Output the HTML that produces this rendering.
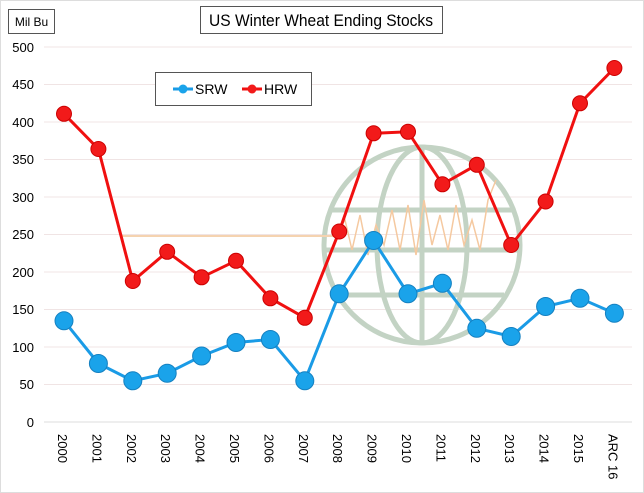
<!DOCTYPE html>
<html><head><style>body{margin:0;background:#fff}svg{display:block}text{font-family:"Liberation Sans",sans-serif}</style></head><body>
<svg width="644" height="493" viewBox="0 0 644 493">
<rect x="0.5" y="0.5" width="643" height="492" fill="#fff" stroke="#ddd"/>
<g stroke="#f0e4e4" stroke-width="1">
<line x1="44" y1="47" x2="632" y2="47"/><line x1="44" y1="84.5" x2="632" y2="84.5"/><line x1="44" y1="122" x2="632" y2="122"/><line x1="44" y1="159.5" x2="632" y2="159.5"/><line x1="44" y1="197" x2="632" y2="197"/><line x1="44" y1="234.5" x2="632" y2="234.5"/><line x1="44" y1="272" x2="632" y2="272"/><line x1="44" y1="309.5" x2="632" y2="309.5"/><line x1="44" y1="347" x2="632" y2="347"/><line x1="44" y1="384.5" x2="632" y2="384.5"/>
</g>
<line x1="44" y1="422" x2="632" y2="422" stroke="#ddd"/>
<g fill="none" stroke="#c3d3c4" stroke-width="5">
<circle cx="422" cy="245" r="98"/>
<ellipse cx="422" cy="245" rx="45" ry="98"/>
<line x1="422" y1="147" x2="422" y2="343"/>
<line x1="330" y1="210" x2="514" y2="210"/>
<line x1="326" y1="250" x2="518" y2="250"/>
<line x1="340" y1="295" x2="504" y2="295"/>
</g>
<line x1="122" y1="236" x2="335" y2="236" stroke="#f5d3b0" stroke-width="2"/>
<polyline fill="none" stroke="#f5c9a0" stroke-width="1.5" points="335,236 345,220 352,250 360,215 368,255 376,225 384,245 392,210 400,250 408,205 416,255 424,200 432,245 440,215 448,250 456,205 464,245 472,220 480,250 488,200 496,180"/>
<g font-size="13" fill="#000" text-anchor="end">
<text x="34" y="52">500</text><text x="34" y="89">450</text><text x="34" y="127">400</text><text x="34" y="164">350</text><text x="34" y="202">300</text><text x="34" y="239">250</text><text x="34" y="277">200</text><text x="34" y="314">150</text><text x="34" y="352">100</text><text x="34" y="389">50</text><text x="34" y="427">0</text>
</g>
<g font-size="13" fill="#000">
<text transform="translate(58,434) rotate(90)">2000</text>
<text transform="translate(92.4,434) rotate(90)">2001</text>
<text transform="translate(126.8,434) rotate(90)">2002</text>
<text transform="translate(161.2,434) rotate(90)">2003</text>
<text transform="translate(195.6,434) rotate(90)">2004</text>
<text transform="translate(230,434) rotate(90)">2005</text>
<text transform="translate(264.4,434) rotate(90)">2006</text>
<text transform="translate(298.8,434) rotate(90)">2007</text>
<text transform="translate(333.2,434) rotate(90)">2008</text>
<text transform="translate(367.6,434) rotate(90)">2009</text>
<text transform="translate(402,434) rotate(90)">2010</text>
<text transform="translate(436.4,434) rotate(90)">2011</text>
<text transform="translate(470.8,434) rotate(90)">2012</text>
<text transform="translate(505.2,434) rotate(90)">2013</text>
<text transform="translate(539.6,434) rotate(90)">2014</text>
<text transform="translate(574,434) rotate(90)">2015</text>
<text transform="translate(608.4,434) rotate(90)">ARC 16</text>
</g>
<polyline fill="none" stroke="#1a9be6" stroke-width="3" points="64,320.8 98.4,363.5 132.8,380.8 167.2,373.3 201.6,356 236,342.5 270.4,339.5 304.8,380.8 339.2,293.8 373.6,240.5 408,293.8 442.4,283.3 476.8,328.3 511.2,336.5 545.6,306.5 580,298.3 614.4,313.3"/>
<g fill="#1aa3ea" stroke="#1580c0" stroke-width="1">
<circle cx="64" cy="320.8" r="9"/><circle cx="98.4" cy="363.5" r="9"/><circle cx="132.8" cy="380.8" r="9"/><circle cx="167.2" cy="373.3" r="9"/><circle cx="201.6" cy="356" r="9"/><circle cx="236" cy="342.5" r="9"/><circle cx="270.4" cy="339.5" r="9"/><circle cx="304.8" cy="380.8" r="9"/><circle cx="339.2" cy="293.8" r="9"/><circle cx="373.6" cy="240.5" r="9"/><circle cx="408" cy="293.8" r="9"/><circle cx="442.4" cy="283.3" r="9"/><circle cx="476.8" cy="328.3" r="9"/><circle cx="511.2" cy="336.5" r="9"/><circle cx="545.6" cy="306.5" r="9"/><circle cx="580" cy="298.3" r="9"/><circle cx="614.4" cy="313.3" r="9"/>
</g>
<polyline fill="none" stroke="#f01010" stroke-width="3" points="64,113.8 98.4,149 132.8,281 167.2,251.8 201.6,277.3 236,260.8 270.4,298.3 304.8,317.8 339.2,231.5 373.6,133.3 408,131.8 442.4,184.3 476.8,164.8 511.2,245 545.6,201.5 580,103.3 614.4,68"/>
<g fill="#f21a1a" stroke="#c00" stroke-width="1">
<circle cx="64" cy="113.8" r="7.5"/><circle cx="98.4" cy="149" r="7.5"/><circle cx="132.8" cy="281" r="7.5"/><circle cx="167.2" cy="251.8" r="7.5"/><circle cx="201.6" cy="277.3" r="7.5"/><circle cx="236" cy="260.8" r="7.5"/><circle cx="270.4" cy="298.3" r="7.5"/><circle cx="304.8" cy="317.8" r="7.5"/><circle cx="339.2" cy="231.5" r="7.5"/><circle cx="373.6" cy="133.3" r="7.5"/><circle cx="408" cy="131.8" r="7.5"/><circle cx="442.4" cy="184.3" r="7.5"/><circle cx="476.8" cy="164.8" r="7.5"/><circle cx="511.2" cy="245" r="7.5"/><circle cx="545.6" cy="201.5" r="7.5"/><circle cx="580" cy="103.3" r="7.5"/><circle cx="614.4" cy="68" r="7.5"/>
</g>
<rect x="155.5" y="72.5" width="156" height="33" fill="#fff" stroke="#555"/>
<line x1="173" y1="89" x2="193" y2="89" stroke="#1a9be6" stroke-width="3"/><circle cx="183" cy="89" r="4.5" fill="#1aa3ea"/>
<text x="195" y="94" font-size="14">SRW</text>
<line x1="242" y1="89" x2="262" y2="89" stroke="#f01010" stroke-width="3"/><circle cx="252" cy="89" r="4.5" fill="#f21a1a"/>
<text x="264" y="94" font-size="14">HRW</text>
<rect x="200.5" y="6.5" width="242" height="27" fill="#fff" stroke="#555"/>
<text x="321" y="26" font-size="17" text-anchor="middle" textLength="224" lengthAdjust="spacingAndGlyphs">US Winter Wheat Ending Stocks</text>
<rect x="8.5" y="9.5" width="46" height="24" fill="#fff" stroke="#555"/>
<text x="31.5" y="26" font-size="12" text-anchor="middle">Mil Bu</text>
</svg>
</body></html>
